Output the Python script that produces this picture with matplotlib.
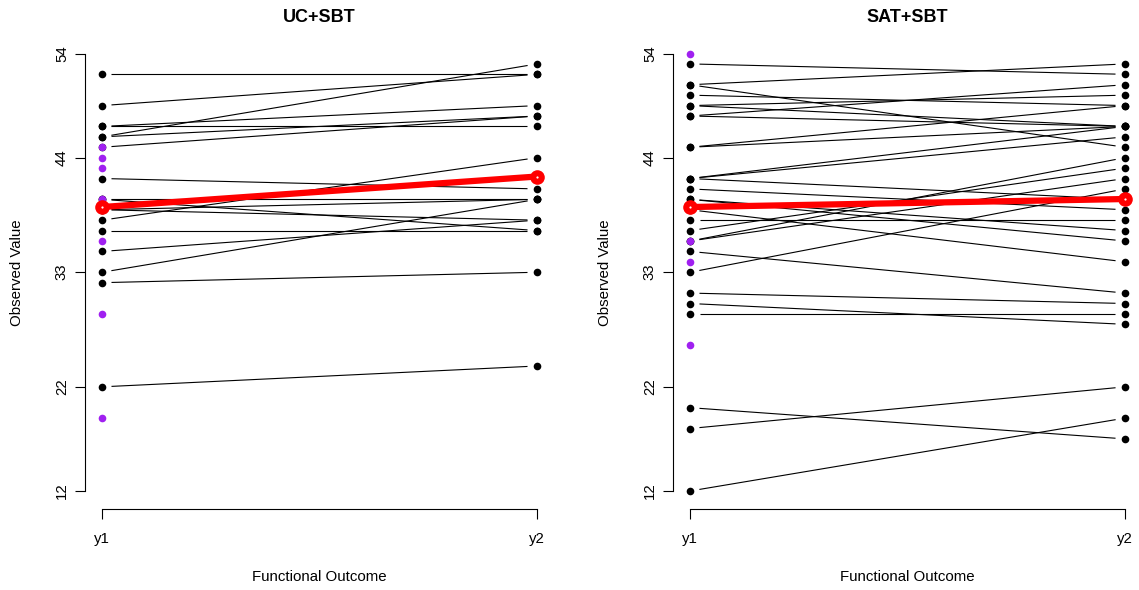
import matplotlib
matplotlib.use("Agg")
import matplotlib.pyplot as plt
import numpy as np

plt.rcParams['font.family'] = ['Liberation Sans', 'DejaVu Sans']

# UC+SBT : paired values (y1 -> y2), drop-outs only have y1
uc_y1 = [52, 49, 47, 47, 46, 46, 45, 42, 40, 40, 39, 39, 38, 37, 35, 33, 32, 22]
uc_y2 = [52, 52, 49, 47, 53, 48, 48, 41, 40, 37, 38, 40, 44, 37, 38, 40, 33, 24]
uc_drop = [45, 44, 43, 40, 36, 29, 19]
uc_mean = [39.26, 42.19]

# SAT+SBT
sat_y1 = [53, 51, 51, 50, 49, 49, 48, 48, 45, 45, 42, 42, 42, 41, 40, 39, 38,
          37, 36, 36, 40, 33, 35, 31, 30, 29, 20, 18, 12]
sat_y2 = [52, 53, 45, 49, 50, 47, 51, 47, 49, 47, 47, 46, 40, 39, 36, 34, 38,
          43, 44, 42, 37, 41, 31, 30, 28, 29, 17, 22, 19]
sat_drop = [54, 36, 34, 26]
sat_mean = [39.26, 40.03]

titles = ["UC+SBT", "SAT+SBT"]
yticks = [12, 22, 33, 44, 54]
xticklabels = ["y1", "y2"]

W, H = 1139, 590
fig = plt.figure(figsize=(W / 100, H / 100), dpi=100)

purple = '#A020F0'
gap = 9.5  # px gap between points and lines (type="b")


def panel(left_px, y1, y2, drop, mean, title):
    ax = fig.add_axes([left_px / W, (H - 508.5) / H, 469.8 / W, 472.5 / H])
    ax.set_xlim(0.96, 2.04)
    ax.set_ylim(10.32, 55.68)
    for s in ['top', 'right']:
        ax.spines[s].set_visible(False)
    ax.spines['left'].set_bounds(12, 54)
    ax.spines['bottom'].set_bounds(1, 2)
    ax.spines['left'].set_linewidth(0.8)
    ax.spines['bottom'].set_linewidth(0.8)

    trans = ax.transData
    inv = trans.inverted()
    for a, b in zip(y1, y2):
        p1 = trans.transform((1, a))
        p2 = trans.transform((2, b))
        d = (p2 - p1) / np.hypot(*(p2 - p1))
        q1 = inv.transform(p1 + d * gap)
        q2 = inv.transform(p2 - d * gap)
        ax.plot([q1[0], q2[0]], [q1[1], q2[1]], color='black', lw=0.8,
                solid_capstyle='butt')

    ax.plot([1] * len(y1), y1, 'o', color='black', ms=5.5, mew=0)
    ax.plot([2] * len(y2), y2, 'o', color='black', ms=5.5, mew=0)
    ax.plot([1] * len(drop), drop, 'o', color=purple, ms=5.5, mew=0)

    # mean profile
    ax.plot([1, 2], mean, color='red', lw=4.5, solid_capstyle='butt')
    ax.plot([1, 2], mean, 'o', color='red', ms=10.5, mew=0)
    ax.plot([1, 2], mean, 'o', color='white', ms=1.6, mew=0)

    ax.set_xticks([1, 2])
    ax.set_xticklabels(xticklabels)
    ax.set_yticks(yticks)
    ax.set_yticklabels([str(v) for v in yticks], rotation=90, va='center')
    ax.tick_params(axis='both', length=7, width=0.8, labelsize=10.8)
    ax.tick_params(axis='x', pad=9.7)
    ax.tick_params(axis='y', pad=4.3)

    ax.set_xlabel("Functional Outcome", fontsize=10.8)
    ax.xaxis.set_label_coords(0.5, -(577 - 508.5) / 472.5)
    ax.xaxis.label.set_va('center')
    ax.set_ylabel("Observed Value", fontsize=10.8)
    ax.yaxis.set_label_coords(-67.6 / 469.8, 0.5)
    ax.yaxis.label.set_va('center')
    ax.text(0.5, (508.5 - 18) / 472.5, title, transform=ax.transAxes,
            ha='center', va='center', fontsize=13, fontweight='bold')
    return ax


panel(84.6, uc_y1, uc_y2, uc_drop, uc_mean, titles[0])
panel(672.6, sat_y1, sat_y2, sat_drop, sat_mean, titles[1])

fig.savefig("out.png", dpi=100)
